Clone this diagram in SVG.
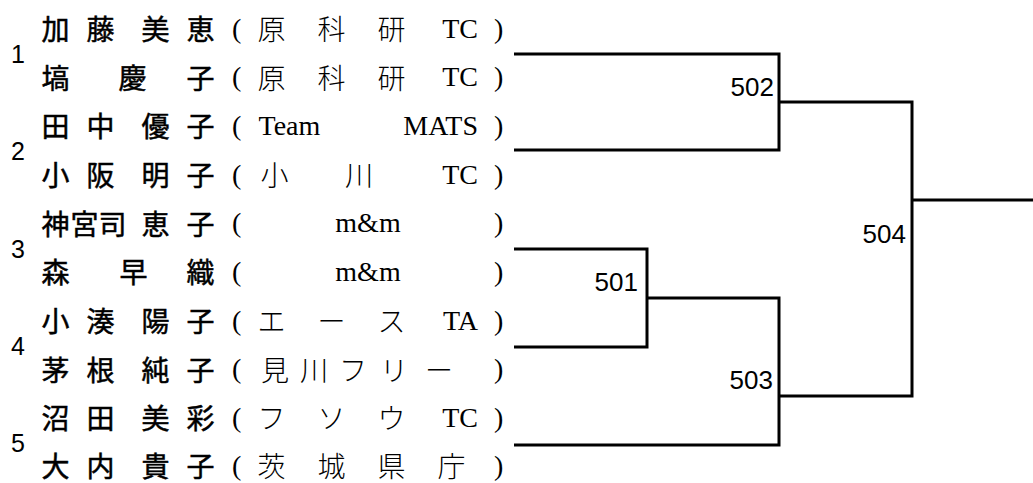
<svg xmlns="http://www.w3.org/2000/svg" width="1033" height="483" viewBox="0 0 1033 483">
<style>
.nm{font-family:"Noto Sans CJK JP",sans-serif;font-size:28px;font-weight:400;fill:#000;stroke:#000;stroke-width:0.5}
.af{font-family:"Noto Sans CJK JP",sans-serif;font-size:28px;font-weight:300;fill:#000}
.lt{font-family:"Liberation Serif","Noto Sans CJK JP",serif;font-size:28px;fill:#000}
.le{font-family:"Liberation Serif","Noto Sans CJK JP",serif;font-size:28px;fill:#000;text-anchor:end}
.lm{font-family:"Liberation Serif","Noto Sans CJK JP",serif;font-size:28px;fill:#000;text-anchor:middle}
.no{font-family:"Liberation Sans",sans-serif;font-size:25px;fill:#000}
.mt{font-family:"Liberation Sans",sans-serif;font-size:26px;fill:#000;text-anchor:end}
.ln{fill:none;stroke:#000;stroke-width:3;stroke-linejoin:miter}
</style>
<rect width="1033" height="483" fill="#fff"/>
<g id="entry1">
<text class="no" x="11" y="63">1</text>
<text class="nm" x="41.5 86.5 141.5 186.5" y="40">加藤美恵</text>
<text class="lt" x="232" y="37.5">(</text>
<text class="af" x="257.5 317.5 377.5" y="40">原科研</text>
<text class="le" x="478" y="37.5">TC</text>
<text class="lt" x="494" y="37.5">)</text>
<text class="nm" x="41.5 118.5 186.5" y="88.7">塙慶子</text>
<text class="lt" x="232" y="86.2">(</text>
<text class="af" x="257.5 317.5 377.5" y="88.7">原科研</text>
<text class="le" x="478" y="86.2">TC</text>
<text class="lt" x="494" y="86.2">)</text>
</g>
<g id="entry2">
<text class="no" x="11" y="160.3">2</text>
<text class="nm" x="41.5 86.5 141.5 186.5" y="137.3">田中優子</text>
<text class="lt" x="232" y="134.8">(</text>
<text class="lt" x="258.5" y="134.8">Team</text>
<text class="le" x="478" y="134.8">MATS</text>
<text class="lt" x="494" y="134.8">)</text>
<text class="nm" x="41.5 86.5 141.5 186.5" y="186">小阪明子</text>
<text class="lt" x="232" y="183.5">(</text>
<text class="af" x="260.5 345" y="186">小川</text>
<text class="le" x="478" y="183.5">TC</text>
<text class="lt" x="494" y="183.5">)</text>
</g>
<g id="entry3">
<text class="no" x="11" y="257.7">3</text>
<text class="nm" x="41.5 70.5 98.5 141.5 186.5" y="234.7">神宮司恵子</text>
<text class="lt" x="232" y="232.2">(</text>
<text class="lm" x="368" y="232.2">m&amp;m</text>
<text class="lt" x="494" y="232.2">)</text>
<text class="nm" x="41.5 119.5 186.5" y="283.3">森早織</text>
<text class="lt" x="232" y="280.8">(</text>
<text class="lm" x="368" y="280.8">m&amp;m</text>
<text class="lt" x="494" y="280.8">)</text>
</g>
<g id="entry4">
<text class="no" x="11" y="355">4</text>
<text class="nm" x="41.5 86.5 141.5 186.5" y="332">小湊陽子</text>
<text class="lt" x="232" y="329.5">(</text>
<text class="af" x="257.5 317.5 377.5" y="332">エース</text>
<text class="le" x="478" y="329.5">TA</text>
<text class="lt" x="494" y="329.5">)</text>
<text class="nm" x="41.5 86.5 141.5 186.5" y="380.7">茅根純子</text>
<text class="lt" x="232" y="378.2">(</text>
<text class="af" x="261 300 339 380 425" y="380.7">見川フリー</text>
<text class="lt" x="494" y="378.2">)</text>
</g>
<g id="entry5">
<text class="no" x="11" y="452.3">5</text>
<text class="nm" x="41.5 86.5 141.5 186.5" y="429.3">沼田美彩</text>
<text class="lt" x="232" y="426.8">(</text>
<text class="af" x="257.5 317.5 377.5" y="429.3">フソウ</text>
<text class="le" x="478" y="426.8">TC</text>
<text class="lt" x="494" y="426.8">)</text>
<text class="nm" x="41.5 86.5 141.5 186.5" y="477">大内貴子</text>
<text class="lt" x="232" y="474.5">(</text>
<text class="af" x="257.5 317.5 377.5 437.5" y="477">茨城県庁</text>
<text class="lt" x="494" y="474.5">)</text>
</g>
<g id="connectors">
<path class="ln" d="M514 54H779V150H514"/>
<path class="ln" d="M779 102H912V396H779"/>
<path class="ln" d="M912 200H1033"/>
<path class="ln" d="M514 249H647V347H514"/>
<path class="ln" d="M647 298H779V445H514"/>
</g>
<g id="match-labels">
<text class="mt" x="774" y="96">502</text>
<text class="mt" x="906" y="243">504</text>
<text class="mt" x="638" y="291">501</text>
<text class="mt" x="773" y="389">503</text>
</g>
</svg>
